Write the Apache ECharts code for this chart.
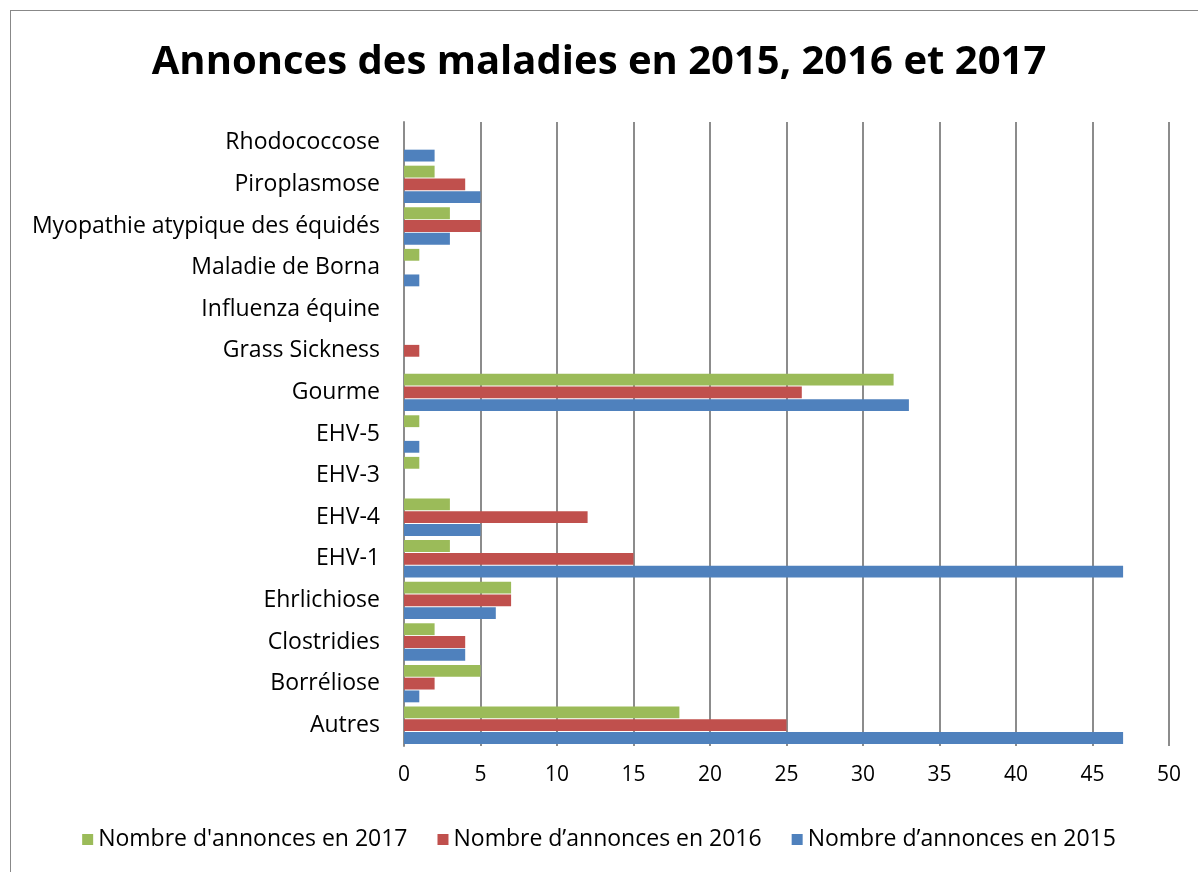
<!DOCTYPE html>
<html><head><meta charset="utf-8">
<script src="https://cdn.jsdelivr.net/npm/echarts@6/dist/echarts.min.js"></script>
<style>html,body{margin:0;padding:0;background:#fff}#c{width:1198px;height:872px}
#frame{position:absolute;left:10px;top:10px;width:1188px;height:862px;border-left:1px solid #888;border-top:1px solid #888;box-sizing:border-box;pointer-events:none}</style>
</head><body><div id="c"></div><div id="frame"></div>
<script>
const categories = ['Autres','Borréliose','Clostridies','Ehrlichiose','EHV-1','EHV-4','EHV-3','EHV-5','Gourme','Grass Sickness','Influenza équine','Maladie de Borna','Myopathie atypique des équidés','Piroplasmose','Rhodococcose'];
const v2015 = [47,1,4,6,47,5,0,1,33,0,0,1,3,5,2];
const v2016 = [25,2,4,7,15,12,0,0,26,1,0,0,5,4,0];
const v2017 = [18,5,2,7,3,3,1,1,32,0,0,1,3,2,0];
const seriesNames = ["Nombre d’annonces en 2015","Nombre d’annonces en 2016","Nombre d'annonces en 2017"];
const font = '"Open Sans", "Noto Sans", sans-serif';
const chart = echarts.init(document.getElementById('c'));
const mk = (name, data, color) => ({name, type:'bar', data, barGap:'8%', barCategoryGap:'10%', itemStyle:{color}});
chart.setOption({
  animation:false,
  textStyle:{fontFamily:font},
  title:{text:'Annonces des maladies en 2015, 2016 et 2017', left:'center', top:38,
    textStyle:{fontFamily:font, fontWeight:'bold', fontSize:40, color:'#000'}},
  grid:{left:404, right:29, top:122, bottom:126},
  legend:{data:[seriesNames[2],seriesNames[1],seriesNames[0]], bottom:16, left:'center', itemWidth:11, itemHeight:11, itemGap:30,
    icon:'rect', textStyle:{fontFamily:font, fontSize:23, color:'#000'}},
  xAxis:{type:'value', min:0, max:50, interval:5,
    axisLine:{show:false}, axisTick:{show:false},
    axisLabel:{fontSize:21, color:'#000', margin:19, fontFamily:font},
    splitLine:{lineStyle:{color:'#8c8c8c', width:2}}},
  yAxis:{type:'category', data:categories,
    axisLine:{lineStyle:{color:'#8c8c8c', width:2}}, axisTick:{show:false},
    axisLabel:{fontSize:23, color:'#000', margin:24, fontFamily:font}},
  series:[mk(seriesNames[2], v2017, '#9BBB59'), mk(seriesNames[1], v2016, '#C0504D'), mk(seriesNames[0], v2015, '#4F81BD')]
});
</script></body></html>
